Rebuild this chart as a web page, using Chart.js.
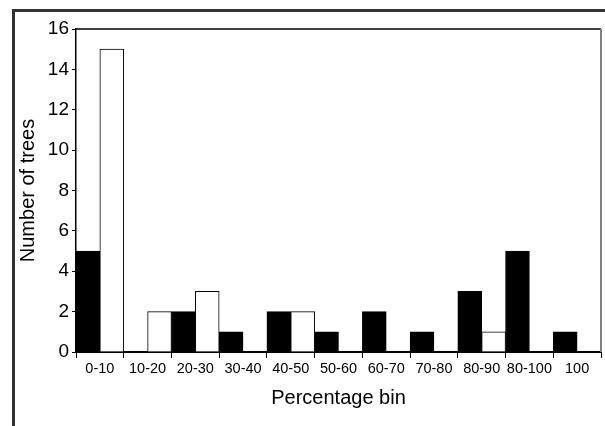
<!DOCTYPE html>
<html>
<head>
<meta charset="utf-8">
<script src="https://cdn.jsdelivr.net/npm/chart.js@4"></script>
<style>
  body { margin: 0; background: #fff; }
  #wrap { position: relative; width: 605px; height: 426px; }
  #frame { position: absolute; left: 12px; top: 9px; right: -10px; bottom: -10px;
           border-left: 3px solid #333; border-top: 3px solid #333; }
  canvas { position: absolute; left: 0; top: 0; }
</style>
</head>
<body>
<div id="wrap">
  <div id="frame"></div>
  <canvas id="c" width="605" height="426"></canvas>
</div>
<script>
// bins and tree counts
const bins = ['0-10','10-20','20-30','30-40','40-50','50-60','60-70','70-80','80-90','80-100','100'];
const blackCounts = [5, 0, 2, 1, 2, 1, 2, 1, 3, 5, 1];
const whiteCounts = [15, 2, 3, 0, 2, 0, 0, 0, 1, 0, 0];
const yTicks = [0, 2, 4, 6, 8, 10, 12, 14, 16];

// top + right edges of the plot box
const boxPlugin = {
  id: 'box',
  afterDraw(chart) {
    const { ctx, chartArea: a } = chart;
    ctx.save();
    ctx.strokeStyle = '#000';
    ctx.lineWidth = 1.5;
    ctx.beginPath();
    ctx.moveTo(a.left, a.top);
    ctx.lineTo(a.right, a.top);
    ctx.stroke();
    ctx.strokeStyle = '#808080';
    ctx.lineWidth = 2;
    ctx.beginPath();
    ctx.moveTo(a.right, a.top);
    ctx.lineTo(a.right, a.bottom);
    ctx.stroke();
    ctx.restore();
  }
};

new Chart(document.getElementById('c'), {
  type: 'bar',
  data: {
    labels: bins,
    datasets: [
      { data: blackCounts, backgroundColor: '#000', borderColor: '#000', borderWidth: 1,
        barPercentage: 1, categoryPercentage: 1 },
      { data: whiteCounts, backgroundColor: '#fff', borderColor: '#000', borderWidth: 1,
        barPercentage: 1, categoryPercentage: 1 }
    ]
  },
  options: {
    responsive: false,
    animation: false,
    layout: { padding: { left: 0, right: 4, top: 29, bottom: 0 } },
    plugins: { legend: { display: false }, tooltip: { enabled: false } },
    scales: {
      x: {
        grid: { offset: true, drawOnChartArea: false, tickLength: 6, color: '#000', tickWidth: 1 },
        border: { color: '#000', width: 2 },
        ticks: { color: '#000', padding: 2, maxRotation: 0, autoSkip: false,
                 font: { family: 'Liberation Sans', size: 14.5 } },
        title: { display: true, text: 'Percentage bin', color: '#000',
                 font: { family: 'Liberation Sans', size: 20 }, padding: { top: 0, bottom: 16 } },
        afterFit(s) { s.height = 74; }
      },
      y: {
        min: 0, max: 16,
        afterBuildTicks(s) { s.ticks = yTicks.map(v => ({ value: v })); },
        grid: { drawOnChartArea: false, tickLength: 4, color: '#000' },
        border: { color: '#000', width: 1.5 },
        ticks: { color: '#000', padding: 3, font: { family: 'Liberation Sans', size: 19 } },
        title: { display: true, text: 'Number of trees', color: '#000',
                 font: { family: 'Liberation Sans', size: 20 }, padding: { top: 16, bottom: 0 } },
        afterFit(s) { s.width = 76; }
      }
    }
  },
  plugins: [boxPlugin]
});
</script>
</body>
</html>
